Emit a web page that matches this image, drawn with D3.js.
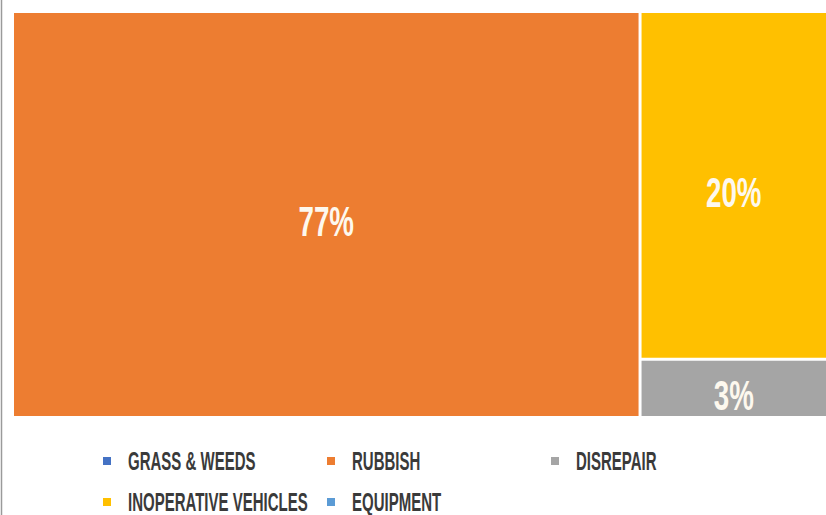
<!DOCTYPE html>
<html><head><meta charset="utf-8">
<script src="https://cdn.jsdelivr.net/npm/d3@7"></script>
<style>html,body{margin:0;padding:0;background:#fff;overflow:hidden}</style>
</head><body>
<svg id="chart" width="826" height="515"></svg>
<script>
const categories = ["Grass & Weeds", "Rubbish", "Disrepair", "Inoperative Vehicles", "Equipment"];
const values = [0, 77, 3.3, 19.7, 0];
const valueLabels = ["0%", "77%", "3%", "20%", "0%"];
const colors = ["#4472C4", "#ED7D31", "#A5A5A5", "#FFC000", "#5B9BD5"];

const svg = d3.select("#chart");
const W = 826, H = 515;

// left frame line
svg.append("line").attr("x1", 1.5).attr("x2", 1.5).attr("y1", 0).attr("y2", H)
  .attr("stroke", "#9a9a9a").attr("stroke-width", 1.5);

const items = categories.map((c, i) => ({name: c, value: values[i], label: valueLabels[i], color: colors[i]}));
const root = d3.hierarchy({children: items.filter(d => d.value > 0)})
  .sum(d => d.value || 0)
  .sort((a, b) => b.value - a.value);

d3.treemap().tile(d3.treemapSquarify).size([812, 403]).paddingInner(3)(root);

const g = svg.append("g").attr("transform", "translate(14,13)");
const cells = g.selectAll("g.cell").data(root.leaves()).join("g").attr("class", "cell");
cells.append("rect")
  .attr("x", d => d.x0).attr("y", d => d.y0)
  .attr("width", d => d.x1 - d.x0).attr("height", d => d.y1 - d.y0)
  .attr("fill", d => d.data.color);
cells.append("text")
  .attr("transform", d => `translate(${(d.x0 + d.x1) / 2},${(d.y0 + d.y1) / 2 + 7}) scale(0.66,1)`)
  .attr("text-anchor", "middle").attr("dominant-baseline", "central")
  .attr("font-family", "'Liberation Sans',Arial,sans-serif")
  .attr("font-weight", "bold").attr("font-size", 42).attr("fill", "#fdf8ee")
  .text(d => d.data.label);

// legend
const legX = d3.scalePoint().domain([0, 1, 2]).range([103, 551]);
const legY = d3.scalePoint().domain([0, 1]).range([461, 502]);
const leg = svg.append("g").selectAll("g").data(items).join("g")
  .attr("transform", (d, i) => `translate(${legX(i % 3)},${legY(Math.floor(i / 3))})`);
leg.append("rect").attr("x", 0).attr("y", -4).attr("width", 8).attr("height", 8).attr("fill", d => d.color);
leg.append("text")
  .attr("transform", "translate(25,0) scale(0.6,1)")
  .attr("dominant-baseline", "central")
  .attr("font-family", "'Liberation Sans',Arial,sans-serif")
  .attr("font-weight", "bold").attr("font-size", 25).attr("fill", "#3a3a3a")
  .text(d => d.name.toUpperCase());
</script>
</body></html>
